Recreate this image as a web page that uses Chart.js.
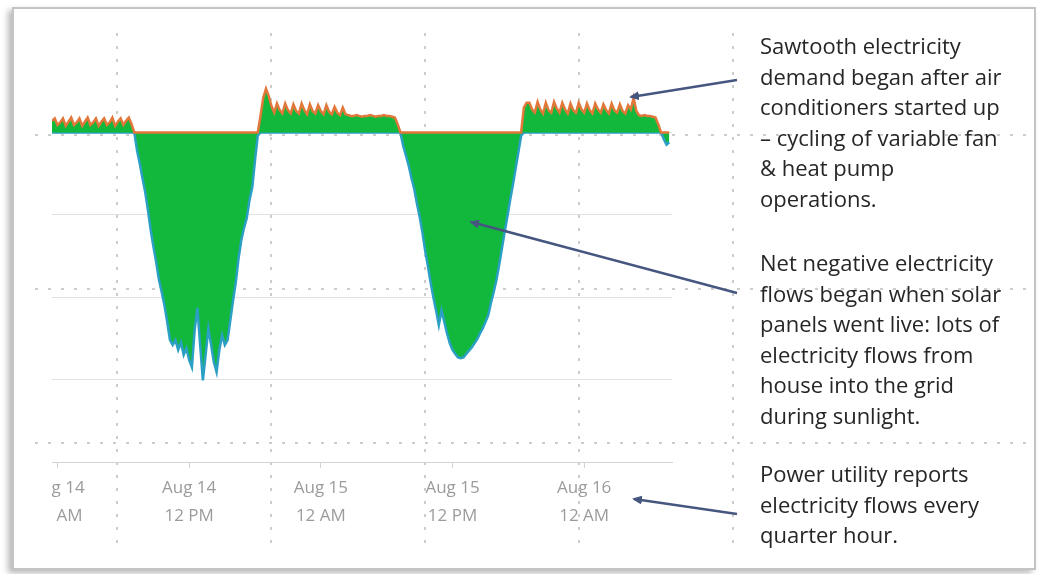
<!DOCTYPE html>
<html>
<head>
<meta charset="utf-8">
<title>Net grid electricity flows</title>
<script src="https://cdn.jsdelivr.net/npm/chart.js@4.4.1/dist/chart.umd.min.js"></script>
<style>
  html, body { margin: 0; padding: 0; background: #fff; }
  body { width: 1042px; height: 574px; position: relative; overflow: hidden; font-family: "Open Sans", sans-serif; }
  .frame { position: absolute; left: 12px; top: 7px; width: 1020px; height: 559px; border: 2px solid #c4c4c4; box-shadow: -4px 3px 6px rgba(0,0,0,0.28); background: #fff; }
  .vdot { position: absolute; width: 2px; top: 33px; height: 516px; background: repeating-linear-gradient(to bottom, #cccccc 0 3px, transparent 3px 13px); }
  .hdot { position: absolute; height: 2px; left: 35px; width: 995px; background: repeating-linear-gradient(to right, #cccccc 0 3px, transparent 3px 13px); }
  #flowChart { position: absolute; left: 0; top: 0; }
  #arrows { position: absolute; left: 0; top: 0; }
  .note { position: absolute; left: 760px; font-size: 22px; line-height: 30.5px; color: #262626; white-space: nowrap; }
</style>
</head>
<body>
<div class="frame"></div>

<div class="vdot" style="left:116px"></div>
<div class="vdot" style="left:270px"></div>
<div class="vdot" style="left:424px"></div>
<div class="vdot" style="left:578px"></div>
<div class="vdot" style="left:732px"></div>
<div class="hdot" style="top:134px"></div>
<div class="hdot" style="top:288px"></div>
<div class="hdot" style="top:442px"></div>

<canvas id="flowChart" width="700" height="574"></canvas>

<svg id="arrows" width="1042" height="574">
  <defs>
    <marker id="head" markerWidth="10" markerHeight="9" refX="8" refY="4.5" orient="auto" markerUnits="userSpaceOnUse" viewBox="0 0 10 9">
      <path d="M0,0 L10,4.5 L0,9 Z" fill="#46577f"/>
    </marker>
  </defs>
  <line x1="737" y1="80" x2="631" y2="97" stroke="#46577f" stroke-width="2.5" marker-end="url(#head)" />
  <line x1="737" y1="293" x2="471" y2="222" stroke="#46577f" stroke-width="2.5" marker-end="url(#head)" />
  <line x1="737" y1="514" x2="634" y2="499" stroke="#46577f" stroke-width="2.5" marker-end="url(#head)" />
</svg>

<div class="note" style="top:30px">Sawtooth electricity<br>demand began after air<br>conditioners started up<br>– cycling of variable fan<br>&amp; heat pump<br>operations.</div>
<div class="note" style="top:247px">Net negative electricity<br>flows began when solar<br>panels went live: lots of<br>electricity flows from<br>house into the grid<br>during sunlight.</div>
<div class="note" style="top:458px">Power utility reports<br>electricity flows every<br>quarter hour.</div>

<script>
// quarter-hour readings, hours counted from Aug 14 12 AM
const startHour = -0.5;
const stepHours = 0.25;

// net kW per quarter hour: positive = drawn from grid, negative = sent into grid
const night1Kw = [0.14, 0.17, 0.09, 0.12, 0.17, 0.08, 0.13, 0.18, 0.09, 0.12,
                  0.17, 0.08, 0.13, 0.18, 0.09, 0.12, 0.17, 0.08, 0.13, 0.17,
                  0.09, 0.12, 0.18, 0.08, 0.13, 0.17, 0.09, 0.14, 0.18, 0.10];
const day1Kw = [0, -0.22, -0.38, -0.56, -0.73, -0.95, -1.19, -1.39, -1.58, -1.79,
                -1.94, -2.10, -2.30, -2.52, -2.58, -2.52, -2.64, -2.55, -2.70, -2.62,
                -2.76, -2.85, -2.40, -2.13, -2.58, -3.01, -2.70, -2.38, -2.58, -2.79,
                -2.91, -2.64, -2.46, -2.58, -2.52, -2.28, -2.04, -1.82, -1.53, -1.31,
                -1.16, -1.04, -0.82, -0.67, -0.34, -0.04];
const night2Kw = [0.20, 0.42, 0.53, 0.44, 0.32, 0.24,
                  0.35, 0.27, 0.23, 0.35, 0.27, 0.23, 0.34, 0.26, 0.23, 0.35,
                  0.27, 0.22, 0.34, 0.26, 0.23, 0.33, 0.26, 0.22, 0.33, 0.25,
                  0.22, 0.31, 0.24, 0.21, 0.30, 0.22,
                  0.21, 0.20, 0.20, 0.21, 0.20, 0.19, 0.20, 0.20, 0.21, 0.20,
                  0.19, 0.20, 0.20, 0.21, 0.20, 0.20, 0.19, 0.18, 0.10];
const day2Kw = [0, -0.16, -0.28, -0.40, -0.55, -0.68, -0.86, -1.02, -1.21, -1.43,
                -1.62, -1.82, -2.00, -2.16, -2.34, -2.16, -2.30, -2.44, -2.56, -2.64,
                -2.69, -2.73, -2.74, -2.73, -2.69, -2.65, -2.61, -2.56, -2.51, -2.44,
                -2.38, -2.30, -2.22, -2.07, -1.94, -1.79, -1.61, -1.41, -1.21, -1.02,
                -0.82, -0.64, -0.44, -0.24, -0.04];
const night3Kw = [0.30, 0.36,
                  0.36, 0.28, 0.24, 0.37, 0.28, 0.23, 0.36, 0.27, 0.24, 0.37,
                  0.29, 0.24, 0.36, 0.28, 0.23, 0.35, 0.27, 0.24, 0.36, 0.28,
                  0.24, 0.35, 0.27, 0.23, 0.35, 0.28, 0.24, 0.34, 0.27, 0.23,
                  0.35, 0.27, 0.24, 0.34, 0.26, 0.23, 0.33,
                  0.28, 0.42, 0.26,
                  0.21, 0.20, 0.21, 0.20, 0.20, 0.19, 0.18,
                  0.10, 0, -0.08, -0.15, -0.12];

const tickHours = [0, 12, 24, 36, 48];
const tickLabels = [["Aug 14", "12 AM"], ["Aug 14", "12 PM"], ["Aug 15", "12 AM"], ["Aug 15", "12 PM"], ["Aug 16", "12 AM"]];

const netKw = [].concat(night1Kw, day1Kw, night2Kw, day2Kw, night3Kw);
const fromGrid = netKw.map((v, i) => ({ x: startHour + i * stepHours, y: Math.max(v, 0) }));
const toGrid = netKw.map((v, i) => ({ x: startHour + i * stepHours, y: Math.min(v, 0) }));

// the original chart is cropped on its left edge, so clip everything left of the plot
const clipLeftEdge = {
    id: 'clipLeftEdge',
    beforeDraw(chart) {
        const ctx = chart.ctx;
        ctx.save();
        ctx.beginPath();
        ctx.rect(chart.chartArea.left, 0, chart.width, chart.height);
        ctx.clip();
    },
    afterDraw(chart) {
        chart.ctx.restore();
    }
};

const ctx = document.getElementById('flowChart').getContext('2d');
new Chart(ctx, {
    type: 'line',
    data: {
        datasets: [{
            label: 'From grid',
            data: fromGrid,
            borderColor: '#e2773a',
            borderWidth: 2.5,
            backgroundColor: '#12b83c',
            fill: 'origin',
            pointRadius: 0,
            tension: 0
        }, {
            label: 'To grid',
            data: toGrid,
            borderColor: '#2b9fc4',
            borderWidth: 2.5,
            backgroundColor: '#12b83c',
            fill: 'origin',
            pointRadius: 0,
            tension: 0
        }]
    },
    options: {
        responsive: false,
        animation: false,
        layout: { padding: { left: 52, top: 50, right: 28, bottom: 0 } },
        plugins: {
            legend: { display: false },
            tooltip: { enabled: false }
        },
        scales: {
            x: {
                type: 'linear',
                min: -0.5,
                max: 56,
                afterBuildTicks: (scale) => { scale.ticks = tickHours.map(v => ({ value: v })); },
                afterFit: (scale) => { scale.height = 112; },
                grid: { drawOnChartArea: false, drawTicks: true, tickLength: 6, color: '#d3d3d3' },
                border: { color: '#d3d3d3' },
                ticks: {
                    autoSkip: false,
                    maxRotation: 0,
                    padding: 6,
                    color: '#9b9b9b',
                    font: { family: 'Open Sans', size: 17, lineHeight: '28px' },
                    callback: (value) => tickLabels[tickHours.indexOf(value)]
                }
            },
            y: {
                min: -4,
                max: 1,
                ticks: { display: false, stepSize: 1 },
                border: { display: false },
                grid: {
                    drawTicks: false,
                    color: (c) => c.tick && c.tick.value === 1 ? 'rgba(0,0,0,0)' : '#e2e2e2'
                }
            }
        }
    },
    plugins: [clipLeftEdge]
});
</script>
</body>
</html>
